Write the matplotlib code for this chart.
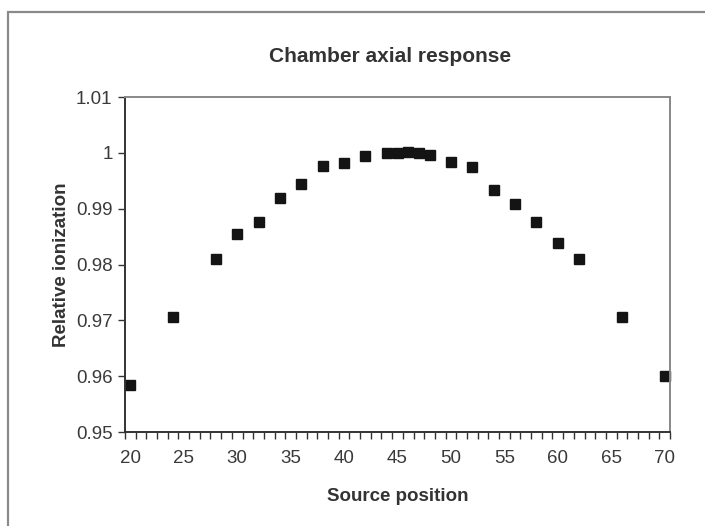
import matplotlib
matplotlib.use("Agg")
import matplotlib.pyplot as plt
from matplotlib.patches import Rectangle
from matplotlib.ticker import FixedLocator

# values (category axis 20..70)
position = [20, 24, 28, 30, 32, 34, 36, 38, 40, 42, 44, 45, 46, 47, 48,
            50, 52, 54, 56, 58, 60, 62, 66, 70]
ionization = [0.9585, 0.9706, 0.9810, 0.9854, 0.9877, 0.9920, 0.9945, 0.9976,
              0.9982, 0.9994, 0.9999, 0.9999, 1.0001, 0.9999, 0.9996,
              0.9984, 0.9974, 0.9933, 0.9908, 0.9877, 0.9839, 0.9810,
              0.9706, 0.9600]

x_ticks = [20, 25, 30, 35, 40, 45, 50, 55, 60, 65, 70]
y_ticks = [0.95, 0.96, 0.97, 0.98, 0.99, 1.00, 1.01]
y_labels = ["0.95", "0.96", "0.97", "0.98", "0.99", "1", "1.01"]

plt.rcParams["font.family"] = ["Liberation Sans", "DejaVu Sans"]

fig = plt.figure(figsize=(7.05, 5.26), dpi=100)
ax = fig.add_axes([125 / 705, 1 - 432 / 526, 545 / 705, 335 / 526])

# outer chart frame (runs off the right and bottom edges)
frame = Rectangle((8 / 705, -0.1), 1.2, 1 - 12 / 526 + 0.1,
                  transform=fig.transFigure, fill=False,
                  edgecolor="#8a8a8a", linewidth=1.6)
fig.patches.append(frame)

ax.plot(position, ionization, linestyle="none", marker="s",
        markersize=7, color="#141414", clip_on=False)

# Excel-style category axis: tick marks sit between categories
ax.set_xlim(19.5, 70.5)
ax.set_xticks(x_ticks)
ax.xaxis.set_minor_locator(FixedLocator([p - 0.5 for p in range(20, 72)]))
ax.set_ylim(0.95, 1.01)
ax.set_yticks(y_ticks)
ax.set_yticklabels(y_labels)

ax.tick_params(axis="both", which="both", direction="out", colors="#333333",
               labelcolor="#3a3a3a", labelsize=13.5, width=1.0)
ax.tick_params(axis="x", which="major", length=0, pad=13)
ax.tick_params(axis="x", which="minor", length=5)
ax.tick_params(axis="y", which="major", length=5, pad=4)

for side in ["left", "bottom"]:
    ax.spines[side].set_color("#333333")
    ax.spines[side].set_linewidth(1.4)
for side in ["top", "right"]:
    ax.spines[side].set_color("#888888")
    ax.spines[side].set_linewidth(1.4)

ax.set_xlabel("Source position", fontsize=13.5, fontweight="bold",
              color="#333333", labelpad=15)
ax.set_ylabel("Relative ionization", fontsize=13.5, fontweight="bold",
              color="#333333", labelpad=4)
fig.text(390 / 705, 1 - 57 / 526, "Chamber axial response", ha="center",
         va="center", fontsize=15, fontweight="bold", color="#333333")

fig.savefig("out.png", dpi=100)
